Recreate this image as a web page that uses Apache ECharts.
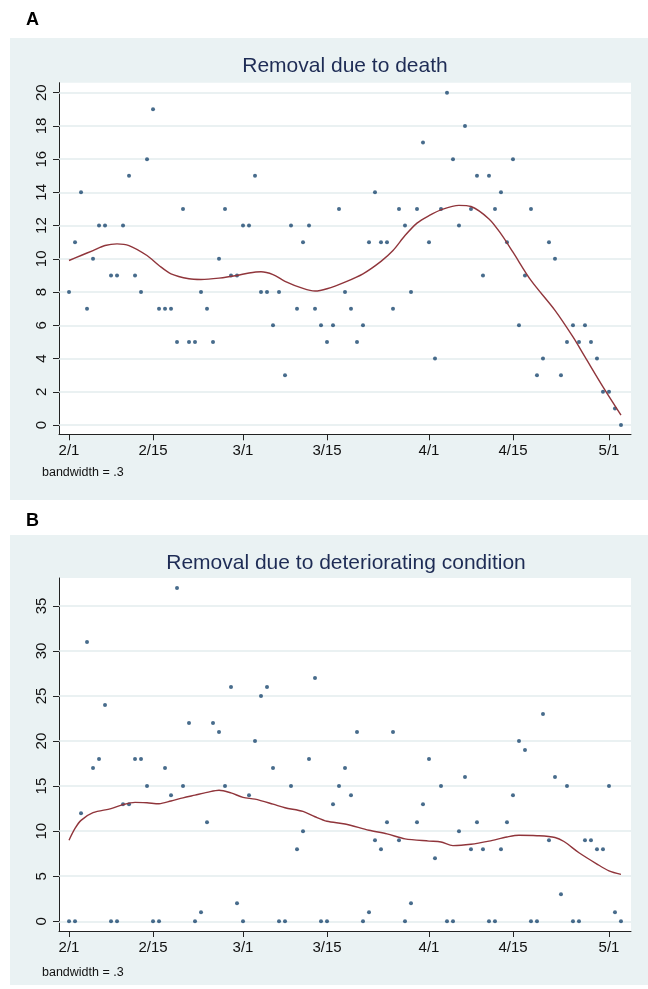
<!DOCTYPE html>
<html><head><meta charset="utf-8">
<script src="https://cdn.jsdelivr.net/npm/echarts@6/dist/echarts.min.js"></script>
<style>html,body{margin:0;padding:0;background:#fff}#c{width:648px;height:989px}</style>
</head><body><div id="c"></div>
<script>
// ---- data (day index 0 = 2/1) ----
const xTickDays = [0, 14, 29, 43, 60, 74, 90];
const xTickLabels = ['2/1', '2/15', '3/1', '3/15', '4/1', '4/15', '5/1'];
const yTicksA = [0, 2, 4, 6, 8, 10, 12, 14, 16, 18, 20];
const yTicksB = [0, 5, 10, 15, 20, 25, 30, 35];

const deathCounts = [8,11,14,7,10,12,12,9,9,12, 15,9,8,16,19,7,7,7,5,13, 5,5,8,7,5,10,13,9,9,12,
  12,15,8,8,6,8,3,12,7,11, 12,7,6,5,6,13,8,7,5,6, 11,14,11,11,7,13,12,8,13,17,
  11,4,13,20,16,12,18,13,15,9, 15,13,14,11,16,6,9,13,3,4, 11,10,3,5,6,5,6,5,4,2, 2,1,0];
const deteriorCounts = [0,0,12,31,17,18,24,0,0,13, 13,18,18,15,0,0,17,14,37,15, 22,0,1,11,22,21,15,26,2,0,
  14,20,25,26,17,0,0,15,8,10, 18,27,0,0,13,15,17,14,21,0, 1,9,8,11,21,9,0,2,11,13,
  18,7,15,0,0,10,16,8,11,8, 0,0,8,11,14,20,19,0,0,23, 9,16,3,15,0,0,9,9,8,8, 15,1,0];

const lowessDaysA = [0,2,4,6,8,10,13,15,17,20,22,25,28,30,32,34,36,39,41,43,46,49,52,54,56,58,60,62,65,67,70,72,74,77,81,84,86,89,92];
const lowessA = [9.9,10.2,10.5,10.8,10.9,10.8,10.2,9.6,9.1,8.8,8.76,8.84,9.0,9.15,9.22,9.05,8.65,8.22,8.06,8.2,8.6,9.1,9.85,10.5,11.4,12.15,12.6,12.95,13.22,13.15,12.4,11.5,10.4,8.7,6.9,5.3,4.1,2.3,0.6];
const lowessDaysB = [0,1,2,4,7,9,11,13,15,17,19,21,23,25,27,29,31,34,36,39,41,43,46,50,53,56,60,62,64,67,70,73,75,78,81,82.5,85,88,90,92];
const lowessB = [9.0,10.3,11.2,12.05,12.5,12.95,13.2,13.15,13.05,13.35,13.7,14.0,14.3,14.55,14.25,13.75,13.55,13.0,12.6,12.2,11.6,11.1,10.8,10.1,9.7,9.15,8.9,8.8,8.4,8.55,8.9,9.35,9.55,9.5,9.3,8.85,7.6,6.35,5.6,5.2];

// ---- styling ----
const FONT = "'Liberation Sans', Arial, Helvetica, sans-serif";
const NAVY = '#1a476f', MAROON = '#90353b', BG = '#eaf2f3', GRID = '#e3ecee', AXIS = '#222';

const toPairs = (xs, ys) => xs.map((x, i) => [x, ys[i]]);
const dayPairs = arr => arr.map((v, i) => [i, v]);

function xAxisCfg(gi) {
  return {
    type: 'value', gridIndex: gi, min: -1.67, max: 93.67,
    axisLine: { show: true, onZero: false, lineStyle: { color: AXIS, width: 1 } },
    axisTick: { show: true, customValues: xTickDays, length: 6, lineStyle: { color: AXIS } },
    axisLabel: { customValues: xTickDays, margin: 9, color: '#111', fontFamily: FONT, fontSize: 15,
      formatter: v => xTickLabels[xTickDays.indexOf(Math.round(v))] },
    splitLine: { show: false }
  };
}
function yAxisCfg(gi, min, max, ticks) {
  return {
    type: 'value', gridIndex: gi, min: min, max: max,
    axisLine: { show: true, onZero: false, lineStyle: { color: AXIS, width: 1 } },
    axisTick: { show: true, customValues: ticks, length: 6, lineStyle: { color: AXIS } },
    axisLabel: { customValues: ticks, rotate: 90, margin: 10, color: '#111', fontFamily: FONT, fontSize: 15 },
    splitLine: { show: false }
  };
}
function gridLines(xi, yi, ticks) {
  return {
    type: 'line', xAxisIndex: xi, yAxisIndex: yi, data: [], z: 1, silent: true,
    markLine: { silent: true, z: 1, symbol: 'none', label: { show: false },
      lineStyle: { color: GRID, type: 'solid', width: 1.5 },
      data: ticks.map(v => ({ yAxis: v })) }
  };
}

const option = {
  animation: false,
  backgroundColor: '#fff',
  graphic: [
    { type: 'rect', z: -100, shape: { x: 10, y: 38, width: 638, height: 462 }, style: { fill: BG } },
    { type: 'rect', z: -100, shape: { x: 10, y: 535, width: 638, height: 450 }, style: { fill: BG } },
    { type: 'text', x: 26, y: 20, style: { text: 'A', font: "bold 18px " + FONT, fill: '#000', verticalAlign: 'middle' } },
    { type: 'text', x: 26, y: 521, style: { text: 'B', font: "bold 18px " + FONT, fill: '#000', verticalAlign: 'middle' } },
    { type: 'text', x: 345, y: 66, style: { text: 'Removal due to death', font: "21px " + FONT, fill: '#1e2c55', align: 'center', verticalAlign: 'middle' } },
    { type: 'text', x: 346, y: 563, style: { text: 'Removal due to deteriorating condition', font: "21px " + FONT, fill: '#1e2c55', align: 'center', verticalAlign: 'middle' } },
    { type: 'text', x: 42, y: 473, style: { text: 'bandwidth = .3', font: "12.5px " + FONT, fill: '#111', verticalAlign: 'middle' } },
    { type: 'text', x: 42, y: 973, style: { text: 'bandwidth = .3', font: "12.5px " + FONT, fill: '#111', verticalAlign: 'middle' } }
  ],
  grid: [
    { left: 59, width: 572, top: 82.7, height: 351.6, show: true, backgroundColor: '#fff', borderWidth: 0 },
    { left: 59, width: 572, top: 578, height: 353, show: true, backgroundColor: '#fff', borderWidth: 0 }
  ],
  xAxis: [xAxisCfg(0), xAxisCfg(1)],
  yAxis: [yAxisCfg(0, -0.56, 20.6, yTicksA), yAxisCfg(1, -1.08, 38.1, yTicksB)],
  series: [
    gridLines(0, 0, yTicksA),
    gridLines(1, 1, yTicksB),
    { type: 'scatter', xAxisIndex: 0, yAxisIndex: 0, z: 10, symbol: 'circle', symbolSize: 4,
      itemStyle: { color: NAVY }, data: dayPairs(deathCounts) },
    { type: 'line', xAxisIndex: 0, yAxisIndex: 0, z: 11, showSymbol: false, smooth: 0.3,
      lineStyle: { color: MAROON, width: 1.4 }, data: toPairs(lowessDaysA, lowessA) },
    { type: 'scatter', xAxisIndex: 1, yAxisIndex: 1, z: 10, symbol: 'circle', symbolSize: 4,
      itemStyle: { color: NAVY }, data: dayPairs(deteriorCounts) },
    { type: 'line', xAxisIndex: 1, yAxisIndex: 1, z: 11, showSymbol: false, smooth: 0.3,
      lineStyle: { color: MAROON, width: 1.4 }, data: toPairs(lowessDaysB, lowessB) }
  ]
};
const chart = echarts.init(document.getElementById('c'), null, { renderer: 'canvas' });
chart.setOption(option);
</script>
</body></html>
